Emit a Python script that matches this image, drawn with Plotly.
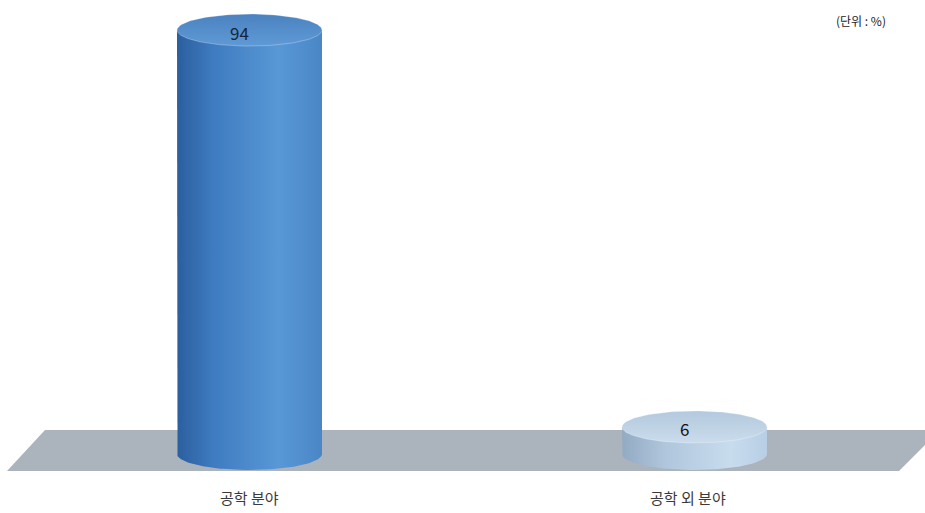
import numpy as np
import plotly.graph_objects as go

# Data
categories = ["공학 분야", "공학 외 분야"]
values = [94, 6]
unit_label = "(단위 : %)"

# Styling per bar: side gradient (left -> right) and top gradient (back -> front)
side_scales = [
    [[0, "#2b5f9e"], [0.25, "#3e7bc0"], [0.7, "#5898d6"], [1, "#4a86c6"]],
    [[0, "#93aac4"], [0.3, "#b0c6dc"], [0.75, "#c8dcee"], [1, "#b8cee4"]],
]
top_scales = [
    [[0, "#4a82c0"], [1, "#5f9ad6"]],
    [[0, "#b4c9de"], [1, "#cadcec"]],
]
label_colors = ["#17263c", "#111111"]

# Coordinate frame: bars at x = 0, 1 ; value axis in percent
PX_PER_CAT = 445.0
PX_PER_VAL = 4.51
X0_PX, Y0_PX = 249.5, 454.0
W, H = 925, 513

def to_x(px):
    return (px - X0_PX) / PX_PER_CAT

def to_y(py):
    return (Y0_PX - py) / PX_PER_VAL

RX = 72.5 / PX_PER_CAT
RY = 16.0 / PX_PER_VAL

fig = go.Figure()

# Floor plane
floor_px = [(45, 430), (940, 430), (899, 471), (7, 471), (45, 430)]
fig.add_trace(go.Scatter(
    x=[to_x(p[0]) for p in floor_px], y=[to_y(p[1]) for p in floor_px],
    mode="lines", fill="toself", fillcolor="#abb4bd",
    line=dict(width=0), hoverinfo="skip", showlegend=False,
))

t = np.linspace(0, np.pi, 80)
tt = np.linspace(0, 2 * np.pi, 160)
cat_label_x_px = [249, 688]

for i, v in enumerate(values):
    cx = float(i)
    top = float(v)
    # cylinder side: left edge down, lower half of base ellipse, right edge up
    xs = [cx - RX] + list(cx - RX * np.cos(t)) + [cx + RX, cx - RX]
    ys = [top] + list(0 - RY * np.sin(t)) + [top, top]
    fig.add_trace(go.Scatter(
        x=xs, y=ys, mode="lines", fill="toself",
        fillgradient=dict(type="horizontal", colorscale=side_scales[i],
                          start=cx - RX, stop=cx + RX),
        line=dict(width=0), hoverinfo="skip", showlegend=False,
    ))
    # top cap
    fig.add_trace(go.Scatter(
        x=cx + RX * np.cos(tt), y=top + RY * np.sin(tt),
        mode="lines", fill="toself",
        fillgradient=dict(type="vertical", colorscale=top_scales[i],
                          start=top + RY, stop=top - RY),
        line=dict(width=0.8, color="rgba(255,255,255,0.35)"),
        hoverinfo="skip", showlegend=False,
    ))
    # value label on the cap
    fig.add_annotation(x=cx, y=top, text=str(v), showarrow=False,
                       xshift=-10, yshift=-2,
                       font=dict(size=17, color=label_colors[i],
                                 family="Noto Sans CJK KR"),
                       xanchor="center", yanchor="middle")
    # category label under the floor
    fig.add_annotation(x=to_x(cat_label_x_px[i]), y=to_y(497),
                       text=categories[i], showarrow=False,
                       font=dict(size=15, color="#3a3a3a",
                                 family="Noto Sans CJK KR"),
                       xanchor="center", yanchor="middle")

fig.add_annotation(x=to_x(861), y=to_y(20), text=unit_label, showarrow=False,
                   font=dict(size=12, color="#222222", family="Noto Sans CJK KR"),
                   xanchor="center", yanchor="middle")

fig.update_layout(
    width=W, height=H,
    margin=dict(l=0, r=0, t=0, b=0),
    paper_bgcolor="white", plot_bgcolor="white",
    xaxis=dict(range=[to_x(0), to_x(W)], visible=False, fixedrange=True),
    yaxis=dict(range=[to_y(H), to_y(0)], visible=False, fixedrange=True),
    showlegend=False,
)

fig.write_html("out.html")
